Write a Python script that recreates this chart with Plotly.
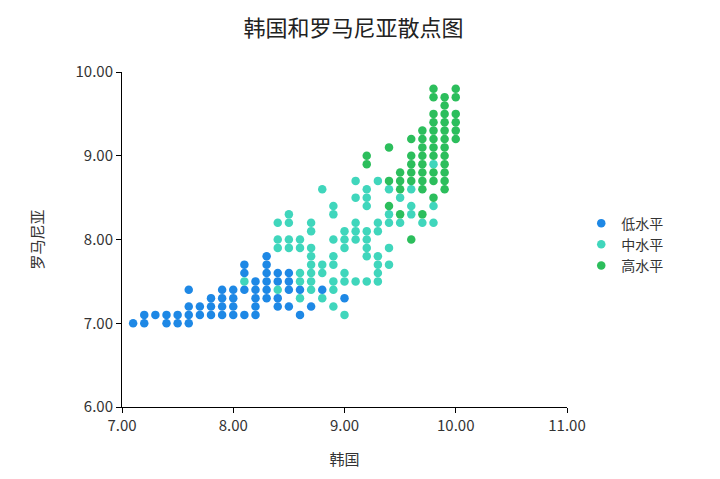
import plotly.graph_objects as go

# Data: (韩国, 罗马尼亚) per level
low_x = [7.1, 7.2, 7.2, 7.3, 7.4, 7.4, 7.5, 7.5, 7.6, 7.6, 7.6, 7.6, 7.7, 7.7,
         7.8, 7.8, 7.8, 7.9, 7.9, 7.9, 7.9, 8.0, 8.0, 8.0, 8.0,
         8.1, 8.1, 8.1, 8.1, 8.2, 8.2, 8.2, 8.2, 8.2,
         8.3, 8.3, 8.3, 8.3, 8.3, 8.3, 8.4, 8.4, 8.4, 8.4,
         8.5, 8.5, 8.5, 8.5, 8.6, 8.6, 8.7, 8.8, 9.0]
low_y = [7.0, 7.0, 7.1, 7.1, 7.0, 7.1, 7.0, 7.1, 7.0, 7.1, 7.2, 7.4, 7.1, 7.2,
         7.1, 7.2, 7.3, 7.1, 7.2, 7.3, 7.4, 7.1, 7.2, 7.3, 7.4,
         7.1, 7.4, 7.6, 7.7, 7.1, 7.2, 7.3, 7.4, 7.5,
         7.3, 7.4, 7.5, 7.6, 7.7, 7.8, 7.2, 7.3, 7.5, 7.6,
         7.2, 7.4, 7.5, 7.6, 7.1, 7.4, 7.2, 7.4, 7.3]

mid_x = [8.1,
         8.4, 8.4, 8.4, 8.4,
         8.5, 8.5, 8.5, 8.5,
         8.6, 8.6, 8.6, 8.6, 8.6,
         8.7, 8.7, 8.7, 8.7, 8.7, 8.7, 8.7, 8.7,
         8.8, 8.8, 8.8, 8.8,
         8.9, 8.9, 8.9, 8.9, 8.9, 8.9, 8.9, 8.9,
         9.0, 9.0, 9.0, 9.0, 9.0, 9.0,
         9.1, 9.1, 9.1, 9.1, 9.1, 9.1,
         9.2, 9.2, 9.2, 9.2, 9.2, 9.2, 9.2, 9.2,
         9.3, 9.3, 9.3, 9.3, 9.3, 9.3, 9.3,
         9.4, 9.4, 9.4, 9.4, 9.4,
         9.5, 9.5,
         9.6, 9.6, 9.6,
         9.7,
         9.8, 9.8, 9.8]
mid_y = [7.5,
         7.4, 7.9, 8.0, 8.2,
         7.9, 8.0, 8.2, 8.3,
         7.3, 7.5, 7.6, 7.9, 8.0,
         7.4, 7.5, 7.6, 7.7, 7.8, 7.9, 8.1, 8.2,
         7.3, 7.6, 7.7, 8.6,
         7.2, 7.4, 7.5, 7.7, 7.8, 8.0, 8.3, 8.4,
         7.1, 7.5, 7.6, 7.9, 8.0, 8.1,
         7.5, 8.0, 8.1, 8.2, 8.5, 8.7,
         7.5, 7.8, 7.9, 8.0, 8.1, 8.4, 8.5, 8.6,
         7.5, 7.6, 7.7, 7.8, 8.1, 8.2, 8.7,
         7.7, 7.9, 8.2, 8.3, 8.6,
         8.2, 8.5,
         8.3, 8.4, 8.6,
         8.2,
         8.2, 8.4, 8.9]

high_x = [9.2, 9.2,
          9.4, 9.4, 9.4,
          9.5, 9.5, 9.5, 9.5,
          9.6, 9.6, 9.6, 9.6, 9.6, 9.6,
          9.7, 9.7, 9.7, 9.7, 9.7, 9.7, 9.7, 9.7, 9.7,
          9.8, 9.8, 9.8, 9.8, 9.8, 9.8, 9.8, 9.8, 9.8, 9.8, 9.8,
          9.9, 9.9, 9.9, 9.9, 9.9, 9.9, 9.9, 9.9, 9.9, 9.9, 9.9, 9.9,
          10.0, 10.0, 10.0, 10.0, 10.0, 10.0]
high_y = [8.9, 9.0,
          8.4, 8.7, 9.1,
          8.3, 8.6, 8.7, 8.8,
          8.0, 8.7, 8.8, 8.9, 9.0, 9.2,
          8.3, 8.6, 8.7, 8.8, 8.9, 9.0, 9.1, 9.2, 9.3,
          8.5, 8.7, 8.8, 9.0, 9.1, 9.2, 9.3, 9.4, 9.5, 9.7, 9.8,
          8.6, 8.7, 8.8, 8.9, 9.0, 9.1, 9.2, 9.3, 9.4, 9.5, 9.6, 9.7,
          9.2, 9.3, 9.4, 9.5, 9.7, 9.8]

series_names = ["低水平", "中水平", "高水平"]
colors = ["#1E88E5", "#40D6BC", "#2CBE5C"]

FONT = "Noto Sans CJK SC, Microsoft YaHei, sans-serif"

fig = go.Figure()
for name, xs, ys, c in zip(series_names, [low_x, mid_x, high_x], [low_y, mid_y, high_y], colors):
    fig.add_trace(go.Scatter(
        x=xs, y=ys, mode="markers", name=name,
        marker=dict(color=c, size=8.5, line=dict(width=0)),
    ))

axis_common = dict(
    showgrid=False, zeroline=False, showline=True, linecolor="#000000", linewidth=1,
    ticks="outside", ticklen=5, tickcolor="#000000", tickformat=".2f",
    tickfont=dict(family=FONT, size=15, color="#333333"),
    dtick=1,
)

fig.update_layout(
    width=720, height=479,
    paper_bgcolor="white", plot_bgcolor="white",
    margin=dict(l=114, r=161, t=64, b=80),
    title=dict(text="韩国和罗马尼亚散点图", x=0.48, xanchor="center", y=0.958, yanchor="middle",
               font=dict(family=FONT, size=22, color="#222222")),
    xaxis=dict(range=[7, 11], title=dict(text="韩国", font=dict(family=FONT, size=15, color="#333333"), standoff=20),
               **axis_common),
    yaxis=dict(range=[6, 10], title=dict(text="罗马尼亚", font=dict(family=FONT, size=15, color="#333333"), standoff=28),
               **axis_common),
    legend=dict(x=1.032, y=0.485, xanchor="left", yanchor="middle",
                font=dict(family=FONT, size=14, color="#333333"),
                itemwidth=30,
                itemsizing="trace", tracegroupgap=0, bgcolor="rgba(0,0,0,0)"),
    showlegend=True,
)

fig.write_html("out.html")
